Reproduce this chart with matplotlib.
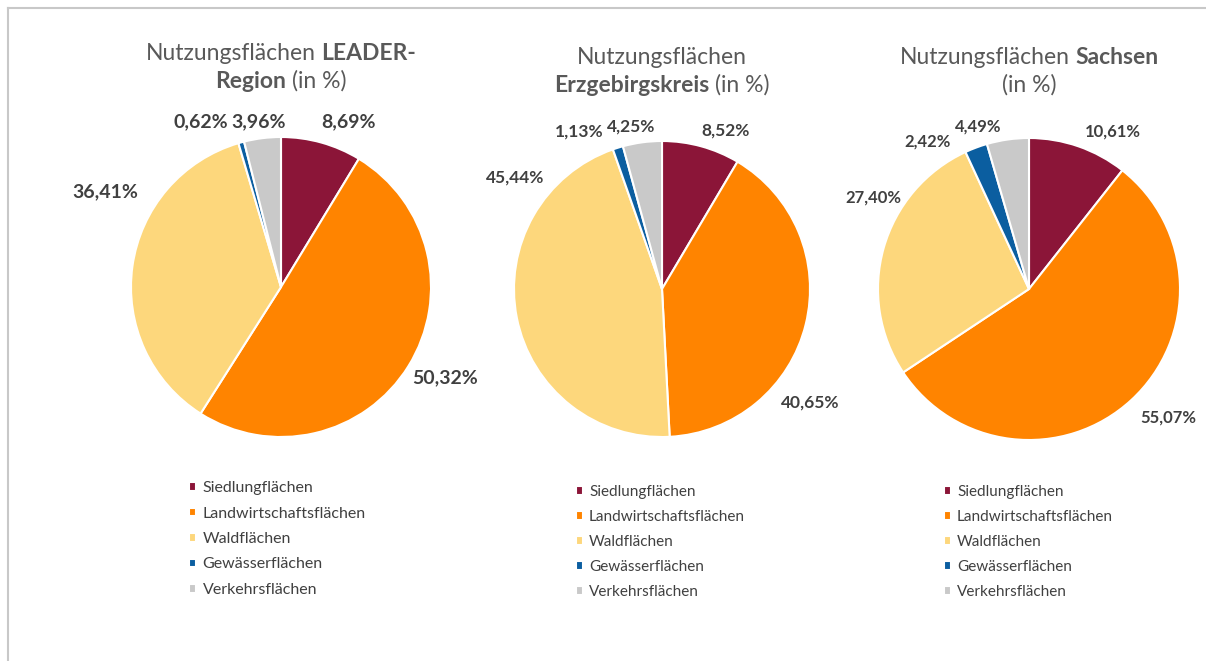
import matplotlib.pyplot as plt
from matplotlib.lines import Line2D

plt.rcParams['font.family'] = ['Lato', 'DejaVu Sans']

W, H = 1206, 661

categories = ['Siedlungflächen', 'Landwirtschaftsflächen', 'Waldflächen',
              'Gewässerflächen', 'Verkehrsflächen']
leader_region = [8.69, 50.32, 36.41, 0.62, 3.96]
erzgebirgskreis = [8.52, 40.65, 45.44, 1.13, 4.25]
sachsen = [10.61, 55.07, 27.40, 2.42, 4.49]

colors = ['#8b1538', '#ff8400', '#fdd77c', '#0b5ea0', '#c9c9c9']

# title lines: list of (text, bold) chunks per line
titles = [
    [[('Nutzungsflächen', False), ('LEADER-', True)], [('Region', True), ('(in %)', False)]],
    [[('Nutzungsflächen', False)], [('Erzgebirgskreis', True), ('(in %)', False)]],
    [[('Nutzungsflächen', False), ('Sachsen', True)], [('(in %)', False)]],
]

# layout (pixels, top-left origin)
centers = [(281, 287), (662, 289), (1029, 289)]
radii = [150, 148, 151]
title_y = [(53, 81), (57, 85), (57, 85)]
legend_xy = [(189, 481), (576, 485), (944, 485)]
legend_size = [11.5, 11, 11]
label_size = [14, 12.5, 12]
# label anchors in pie-radius units
label_pos = [
    [(0.447, 1.10), (1.093, -0.607), (-1.173, 0.633), (-0.533, 1.10), (-0.147, 1.10)],
    [(0.432, 1.068), (1.0, -0.770), (-0.993, 0.75), (-0.561, 1.061), (-0.209, 1.095)],
    [(0.556, 1.040), (0.921, -0.854), (-1.033, 0.609), (-0.675, 0.974), (-0.338, 1.079)],
]

fig = plt.figure(figsize=(W / 100, H / 100), dpi=100)
renderer = fig.canvas.get_renderer()


def rich_line(xc, y, parts, size, color):
    texts = [fig.text(0, 1 - y / H, s, fontsize=size, color=color, va='center',
                      fontweight='bold' if b else 'normal') for s, b in parts]
    probe = [fig.text(0, 0, s, fontsize=size) for s in ('n n', 'nn')]
    gap = probe[0].get_window_extent(renderer).width - probe[1].get_window_extent(renderer).width
    for p in probe:
        p.remove()
    widths = [t.get_window_extent(renderer).width for t in texts]
    total = sum(widths) + gap * (len(texts) - 1)
    x = xc - total / 2
    for t, w in zip(texts, widths):
        t.set_x(x / W)
        x += w + gap


S = 1.45
for i, values in enumerate([leader_region, erzgebirgskreis, sachsen]):
    cx, cy = centers[i]
    r = radii[i]
    size = 2 * S * r
    ax = fig.add_axes([(cx - size / 2) / W, (H - cy - size / 2) / H, size / W, size / H])
    wedges, _ = ax.pie(values, colors=colors, startangle=90, counterclock=False,
                       wedgeprops=dict(edgecolor='white', linewidth=1.5))
    ax.set_xlim(-S, S)
    ax.set_ylim(-S, S)
    ax.set_aspect('equal')
    ax.axis('off')

    for v, (lx, ly) in zip(values, label_pos[i]):
        ax.text(lx, ly, f'{v:.2f}%'.replace('.', ','), ha='center', va='center',
                fontsize=label_size[i], fontweight='bold', color='#404040')

    for line, y in zip(titles[i], title_y[i]):
        rich_line(cx, y, line, 16.5, '#595959')

    lx, ly = legend_xy[i]
    fig.legend(wedges, categories, loc='upper left',
               bbox_to_anchor=(lx / W, 1 - ly / H), frameon=False,
               fontsize=legend_size[i], labelcolor='#404040', handlelength=0.45,
               handleheight=0.45, handletextpad=0.4, labelspacing=0.72,
               borderpad=0, borderaxespad=0)

# frame lines of the original slide
fig.add_artist(Line2D([8 / W, 1], [1 - 8 / H, 1 - 8 / H], color='#c8c8c8', lw=1.5))
fig.add_artist(Line2D([8 / W, 8 / W], [0, 1 - 8 / H], color='#c8c8c8', lw=1.5))

fig.savefig('out.png', dpi=100)
